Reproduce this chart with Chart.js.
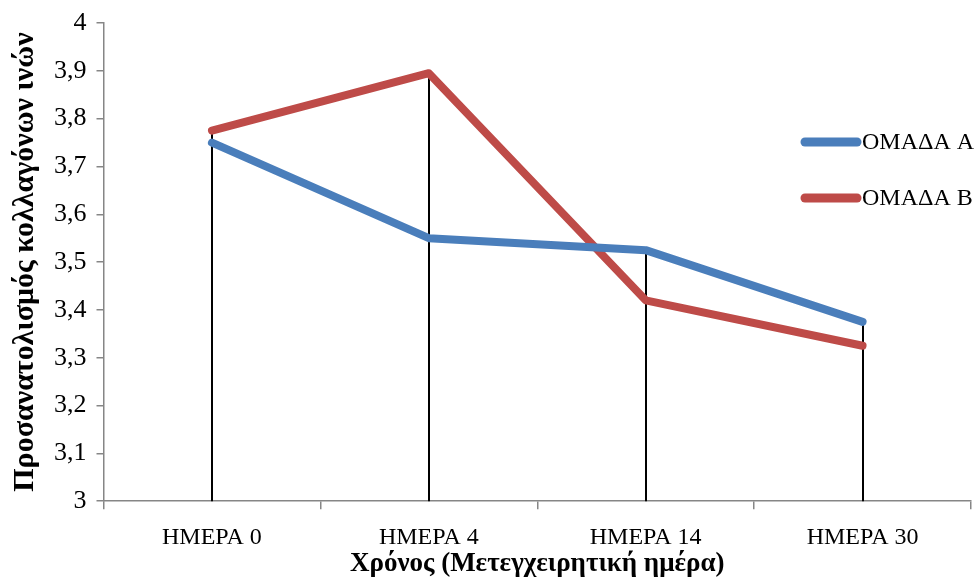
<!DOCTYPE html>
<html>
<head>
<meta charset="utf-8">
<script src="https://cdn.jsdelivr.net/npm/chart.js@4"></script>
<style>
  html, body { margin: 0; padding: 0; background: #fff; }
  #wrap { width: 975px; height: 581px; position: relative; }
</style>
</head>
<body>
<div id="wrap"><canvas id="chart" width="975" height="581"></canvas></div>
<script>
// Δεδομένα
const categories = ["ΗΜΕΡΑ 0", "ΗΜΕΡΑ 4", "ΗΜΕΡΑ 14", "ΗΜΕΡΑ 30"];
const groupA = [3.75, 3.55, 3.525, 3.375];
const groupB = [3.775, 3.895, 3.42, 3.325];
const seriesNames = ["ΟΜΑΔΑ Α", "ΟΜΑΔΑ Β"];
const yTicks = [3, 3.1, 3.2, 3.3, 3.4, 3.5, 3.6, 3.7, 3.8, 3.9, 4];

const blue = "#4a7ebb";
const red = "#be4b48";
const serif = "'Liberation Serif', 'DejaVu Serif', serif";

// Κάθετες γραμμές από το μέγιστο κάθε κατηγορίας προς τον άξονα
const dropLines = {
  id: "dropLines",
  beforeDatasetsDraw(chart) {
    const { ctx, scales: { x, y } } = chart;
    ctx.save();
    ctx.strokeStyle = "#000";
    ctx.lineWidth = 2;
    categories.forEach((c, i) => {
      const top = Math.max(groupA[i], groupB[i]);
      const px = Math.round(x.getPixelForValue(i));
      ctx.beginPath();
      ctx.moveTo(px, y.getPixelForValue(top));
      ctx.lineTo(px, y.getPixelForValue(3));
      ctx.stroke();
    });
    ctx.restore();
  },
};

// Υπόμνημα μέσα στην περιοχή του γραφήματος, όπως στο πρωτότυπο
const sideLegend = {
  id: "sideLegend",
  afterDraw(chart) {
    const { ctx } = chart;
    ctx.save();
    ctx.font = "24px " + serif;
    ctx.textBaseline = "middle";
    chart.data.datasets.forEach((ds, i) => {
      const yy = 142 + i * 56;
      ctx.strokeStyle = ds.borderColor;
      ctx.lineWidth = 9;
      ctx.lineCap = "round";
      ctx.beginPath();
      ctx.moveTo(805, yy);
      ctx.lineTo(857, yy);
      ctx.stroke();
      ctx.fillStyle = "#000";
      ctx.fillText(ds.label, 862, yy + 1);
    });
    ctx.restore();
  },
};

new Chart(document.getElementById("chart").getContext("2d"), {
  type: "line",
  data: {
    labels: categories,
    datasets: [
      {
        label: seriesNames[0],
        data: groupA,
        borderColor: blue,
        backgroundColor: blue,
        borderWidth: 8,
        pointRadius: 0,
        borderCapStyle: "round",
        borderJoinStyle: "round",
        tension: 0,
      },
      {
        label: seriesNames[1],
        data: groupB,
        borderColor: red,
        backgroundColor: red,
        borderWidth: 8,
        pointRadius: 0,
        borderCapStyle: "round",
        borderJoinStyle: "round",
        tension: 0,
      },
    ],
  },
  options: {
    responsive: false,
    animation: false,
    layout: { padding: { top: 22, right: 4, left: 9, bottom: 3 } },
    plugins: {
      legend: { display: false },
      tooltip: { enabled: false },
    },
    scales: {
      x: {
        offset: true,
        border: { color: "#868686", width: 1.5 },
        grid: {
          offset: true,
          drawOnChartArea: false,
          drawTicks: true,
          tickLength: 8,
          color: "#868686",
          lineWidth: 1.5,
        },
        ticks: {
          color: "#000",
          font: { family: serif, size: 24 },
          padding: 14,
        },
        title: {
          display: true,
          text: "Χρόνος (Μετεγχειρητική ημέρα)",
          color: "#000",
          font: { family: serif, size: 27, weight: "bold", lineHeight: 1 },
          padding: { top: -15, bottom: 0 },
        },
      },
      y: {
        min: 3,
        max: 4,
        afterBuildTicks(axis) {
          axis.ticks = yTicks.map((v) => ({ value: v }));
        },
        border: { color: "#868686", width: 1.5 },
        grid: {
          drawOnChartArea: false,
          drawTicks: true,
          tickLength: 7,
          color: "#868686",
          lineWidth: 1.5,
        },
        ticks: {
          color: "#000",
          font: { family: serif, size: 26, lineHeight: 1 },
          padding: 10,
          callback: (v) => String(Math.round(v * 10) / 10).replace(".", ","),
        },
        title: {
          display: true,
          text: "Προσανατολισμός κολλαγόνων ινών",
          color: "#000",
          font: { family: serif, size: 30, weight: "bold", lineHeight: 1.1 },
          padding: { top: 0, bottom: 2 },
        },
      },
    },
  },
  plugins: [dropLines, sideLegend],
});
</script>
</body>
</html>
